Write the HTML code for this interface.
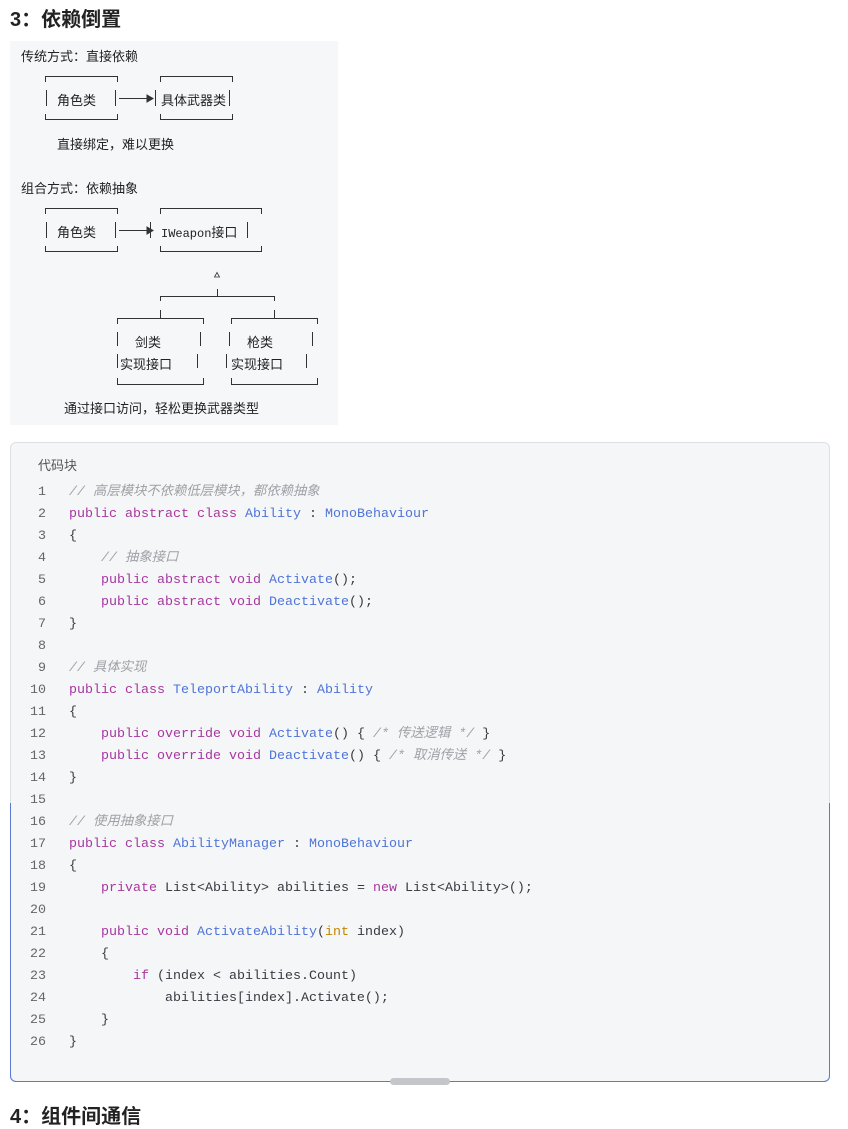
<!DOCTYPE html>
<html><head><meta charset="utf-8"><style>
body{margin:0;width:848px;height:1120px;overflow:hidden;background:#fff;font-family:"Liberation Sans","Noto Sans CJK SC",sans-serif;color:#222;position:relative}
.a{position:absolute;white-space:nowrap}
h2{position:absolute;margin:0;font-size:20px;font-weight:bold;left:10px}
.panel{position:absolute;left:10px;top:41px;width:328px;height:384px;background:#f6f7f9}
.t{font-size:13px;color:#222}
.code{position:absolute;left:10px;top:442px;width:820px;height:640px;background:#f5f6f7;border:1px solid #dedfe2;border-radius:6px;box-sizing:border-box}
.blue{position:absolute;left:10px;top:803px;width:820px;height:279px;border:1px solid #5b78d3;border-top:none;border-radius:0 0 6px 6px;box-sizing:border-box}
.ln{position:absolute;left:20px;width:26px;text-align:right;font-family:"Liberation Mono",monospace;font-size:13.33px;line-height:22px;height:22px;color:#666}
.cl{position:absolute;left:69px;font-family:"Liberation Mono","Noto Sans CJK SC",monospace;font-size:13.33px;line-height:22px;height:22px;color:#383a42;white-space:pre}
.k{color:#a6379e}.ty{color:#4f74d8}.c{color:#a0a1a7;font-style:italic}.i{color:#c18401}
</style></head><body>
<h2 style="top:3px">3：依赖倒置</h2>
<div class="panel"></div>
<svg class="a" style="left:0;top:0" width="340" height="430" stroke="#333" stroke-width="1" fill="none">
<path d="M45.5 82V76.5H117.5V82M45.5 114V119.5H117.5V114M46.5 90V106M115.5 90V106"/>
<path d="M119 98.5H148"/><path d="M147 95L153 98.5L147 102Z" fill="#333"/>
<path d="M160.5 82V76.5H232.5V82M160.5 114V119.5H232.5V114M155.5 90V106M229.5 90V106"/>
<path d="M45.5 214V208.5H117.5V214M45.5 246V251.5H117.5V246M46.5 222V238M115.5 222V238"/>
<path d="M119 230.5H148"/><path d="M147 227L153 230.5L147 234Z" fill="#333"/>
<path d="M160.5 214V208.5H261.5V214M160.5 246V251.5H261.5V246M150.5 222V238M247.5 222V238"/>
<path d="M214.5 277L217 272.5L219.5 277Z" stroke-width="0.8"/>
<path d="M217.5 289V296M160.5 301V296.5H274.5V301M160.5 310V318M274.5 310V318"/>
<path d="M117.5 324V318.5H203.5V324M117.5 378V384.5H203.5V378M117.5 332V346M200.5 332V346M117.5 354V368M197.5 354V368"/>
<path d="M231.5 324V318.5H317.5V324M231.5 378V384.5H317.5V378M229.5 332V346M312.5 332V346M226.5 354V368M306.5 354V368"/>
</svg>
<div class="a t" style="left:21px;top:46px">传统方式：直接依赖</div>
<div class="a t" style="left:57px;top:90px">角色类</div>
<div class="a t" style="left:161px;top:90px">具体武器类</div>
<div class="a t" style="left:57px;top:134px">直接绑定，难以更换</div>
<div class="a t" style="left:21px;top:178px">组合方式：依赖抽象</div>
<div class="a t" style="left:57px;top:222px">角色类</div>
<div class="a t" style="left:161px;top:222px;font-family:'Liberation Mono','Noto Sans CJK SC',monospace;font-size:12px">IWeapon<span style="font-family:'Noto Sans CJK SC',sans-serif;font-size:13px">接口</span></div>
<div class="a t" style="left:135px;top:332px">剑类</div>
<div class="a t" style="left:120px;top:354px">实现接口</div>
<div class="a t" style="left:247px;top:332px">枪类</div>
<div class="a t" style="left:231px;top:354px">实现接口</div>
<div class="a t" style="left:64px;top:398px">通过接口访问，轻松更换武器类型</div>

<div class="code"></div>
<div class="blue"></div>
<div class="a" style="left:38px;top:455px;font-size:13px;color:#555">代码块</div>
<div class="a" style="left:390px;top:1078px;width:60px;height:7px;border-radius:4px;background:#c4c6ca"></div>

<div class="ln" style="top:482px">1</div><div class="cl" style="top:482px"><span class="c">// 高层模块不依赖低层模块，都依赖抽象</span></div>
<div class="ln" style="top:504px">2</div><div class="cl" style="top:504px"><span class="k">public abstract class</span> <span class="ty">Ability</span> : <span class="ty">MonoBehaviour</span></div>
<div class="ln" style="top:526px">3</div><div class="cl" style="top:526px">{</div>
<div class="ln" style="top:548px">4</div><div class="cl" style="top:548px">    <span class="c">// 抽象接口</span></div>
<div class="ln" style="top:570px">5</div><div class="cl" style="top:570px">    <span class="k">public abstract void</span> <span class="ty">Activate</span>();</div>
<div class="ln" style="top:592px">6</div><div class="cl" style="top:592px">    <span class="k">public abstract void</span> <span class="ty">Deactivate</span>();</div>
<div class="ln" style="top:614px">7</div><div class="cl" style="top:614px">}</div>
<div class="ln" style="top:636px">8</div>
<div class="ln" style="top:658px">9</div><div class="cl" style="top:658px"><span class="c">// 具体实现</span></div>
<div class="ln" style="top:680px">10</div><div class="cl" style="top:680px"><span class="k">public class</span> <span class="ty">TeleportAbility</span> : <span class="ty">Ability</span></div>
<div class="ln" style="top:702px">11</div><div class="cl" style="top:702px">{</div>
<div class="ln" style="top:724px">12</div><div class="cl" style="top:724px">    <span class="k">public override void</span> <span class="ty">Activate</span>() { <span class="c">/* 传送逻辑 */</span> }</div>
<div class="ln" style="top:746px">13</div><div class="cl" style="top:746px">    <span class="k">public override void</span> <span class="ty">Deactivate</span>() { <span class="c">/* 取消传送 */</span> }</div>
<div class="ln" style="top:768px">14</div><div class="cl" style="top:768px">}</div>
<div class="ln" style="top:790px">15</div>
<div class="ln" style="top:812px">16</div><div class="cl" style="top:812px"><span class="c">// 使用抽象接口</span></div>
<div class="ln" style="top:834px">17</div><div class="cl" style="top:834px"><span class="k">public class</span> <span class="ty">AbilityManager</span> : <span class="ty">MonoBehaviour</span></div>
<div class="ln" style="top:856px">18</div><div class="cl" style="top:856px">{</div>
<div class="ln" style="top:878px">19</div><div class="cl" style="top:878px">    <span class="k">private</span> List&lt;Ability&gt; abilities = <span class="k">new</span> List&lt;Ability&gt;();</div>
<div class="ln" style="top:900px">20</div>
<div class="ln" style="top:922px">21</div><div class="cl" style="top:922px">    <span class="k">public void</span> <span class="ty">ActivateAbility</span>(<span class="i">int</span> index)</div>
<div class="ln" style="top:944px">22</div><div class="cl" style="top:944px">    {</div>
<div class="ln" style="top:966px">23</div><div class="cl" style="top:966px">        <span class="k">if</span> (index &lt; abilities.Count)</div>
<div class="ln" style="top:988px">24</div><div class="cl" style="top:988px">            abilities[index].Activate();</div>
<div class="ln" style="top:1010px">25</div><div class="cl" style="top:1010px">    }</div>
<div class="ln" style="top:1032px">26</div><div class="cl" style="top:1032px">}</div>

<h2 style="top:1100px">4：组件间通信</h2>
</body></html>
